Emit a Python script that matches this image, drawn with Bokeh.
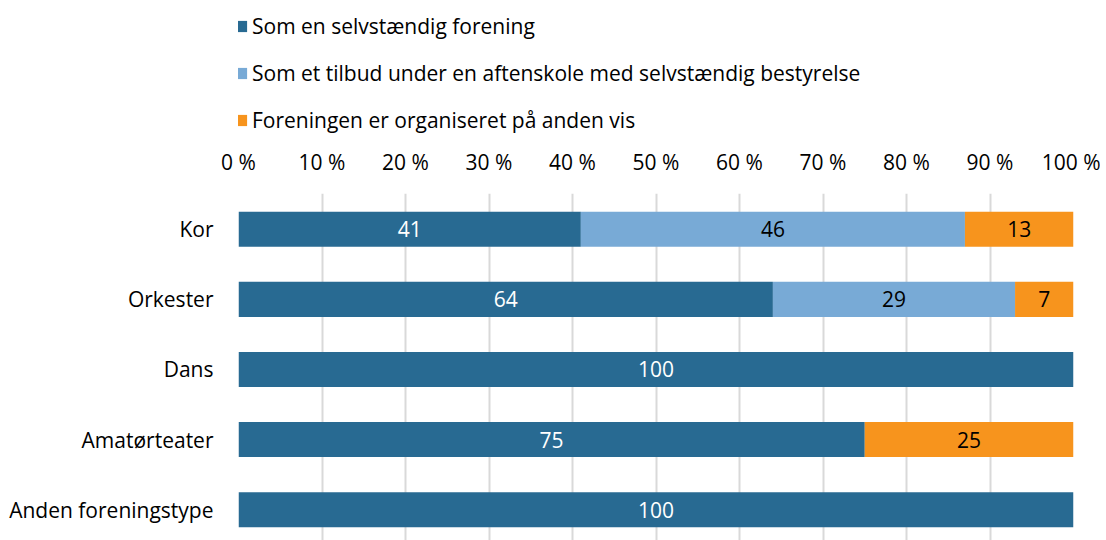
from bokeh.plotting import figure
from bokeh.models import (ColumnDataSource, Range1d, FixedTicker, Legend, LegendItem, LabelSet)
from bokeh.layouts import column
from bokeh.core.properties import value
from bokeh.embed import file_html
from bokeh.resources import INLINE

categories = ["Kor", "Orkester", "Dans", "Amatørteater", "Anden foreningstype"]
selvstaendig = [41, 64, 100, 75, 100]
aftenskole = [46, 29, 0, 0, 0]
anden_vis = [13, 7, 0, 25, 0]
series_names = ["Som en selvstændig forening",
                "Som et tilbud under en aftenskole med selvstændig bestyrelse",
                "Foreningen er organiseret på anden vis"]
colors = ["#286A92", "#78AAD6", "#F7941D"]
x_ticks = [0, 10, 20, 30, 40, 50, 60, 70, 80, 90, 100]

FONT = "Open Sans"
FS = "21px"
W = 1100
LH = 140

n = len(categories)
ypos = [n - 1 - i for i in range(n)]

# ---------- legend figure ----------
lf = figure(width=W, height=LH, output_backend="svg", toolbar_location=None,
            x_range=Range1d(0, W - 238 - 27), y_range=Range1d(0, LH),
            min_border_left=238, min_border_right=27,
            min_border_top=0, min_border_bottom=0)
lf.axis.visible = False
lf.grid.visible = False
lf.outline_line_color = None
# legend-only renderers: one quad each, placed outside the visible range
offscreen = ColumnDataSource(dict(l=[5000], r=[5001], t=[5001], b=[5000]))
lr = [lf.quad(left="l", right="r", top="t", bottom="b", source=offscreen,
              fill_color=c, line_color=None) for c in colors]
legend = Legend(items=[LegendItem(label=series_names[i], renderers=[lr[i]]) for i in range(3)],
                location=(-4, 6), orientation="vertical", border_line_color=None,
                background_fill_alpha=0, label_text_font=FONT, label_text_font_size=FS,
                label_text_color="black",
                glyph_width=14, glyph_height=14, label_standoff=4, spacing=19, margin=0,
                padding=0)
lf.add_layout(legend, "center")

# ---------- main chart ----------
src = ColumnDataSource(dict(y=ypos, a=selvstaendig, b=aftenskole, c=anden_vis))

p = figure(width=W, height=400, output_backend="svg", toolbar_location=None,
           x_range=Range1d(0, 100), y_range=Range1d(-0.44, n - 1 + 0.51),
           x_axis_location="above", min_border_left=238, min_border_right=27,
           min_border_bottom=0, min_border_top=53)
p.outline_line_color = None

rs = p.hbar_stack(["a", "b", "c"], y="y", height=0.5, color=colors, source=src,
                  line_color=None)

for i, tc in enumerate(["white", "black", "black"]):
    xs, ys, ts = [], [], []
    for k in range(n):
        vals = [selvstaendig[k], aftenskole[k], anden_vis[k]]
        v = vals[i]
        if v <= 0:
            continue
        xs.append(sum(vals[:i]) + v / 2)
        ys.append(ypos[k])
        ts.append(str(v))
    ls = ColumnDataSource(dict(x=xs, y=ys, t=ts))
    p.add_layout(LabelSet(x="x", y="y", text="t", source=ls, text_align="center",
                          text_baseline="middle", text_color=tc,
                          text_font=value(FONT), text_font_size=value(FS)))

xa = p.xaxis[0]
xa.ticker = FixedTicker(ticks=x_ticks)
xa.major_label_overrides = {t: f"{t} %" for t in x_ticks}
xa.axis_line_color = None
xa.major_tick_line_color = None
xa.minor_tick_line_color = None
xa.major_tick_out = 0
xa.major_tick_in = 0
xa.major_label_standoff = 18
xa.major_label_text_font = FONT
xa.major_label_text_font_size = FS
xa.major_label_text_color = "black"

ya = p.yaxis[0]
ya.ticker = FixedTicker(ticks=ypos)
ya.major_label_overrides = {ypos[k]: categories[k] for k in range(n)}
ya.axis_line_color = None
ya.major_tick_line_color = None
ya.minor_tick_line_color = None
ya.major_tick_out = 0
ya.major_tick_in = 0
ya.major_label_standoff = 25
ya.major_label_text_font = FONT
ya.major_label_text_font_size = FS
ya.major_label_text_color = "black"

p.ygrid.grid_line_color = None
p.xgrid.grid_line_color = "#D9D9D9"
p.xgrid.grid_line_width = 2

layout = column(lf, p, spacing=0)
open("out.html", "w").write(file_html(layout, INLINE))
